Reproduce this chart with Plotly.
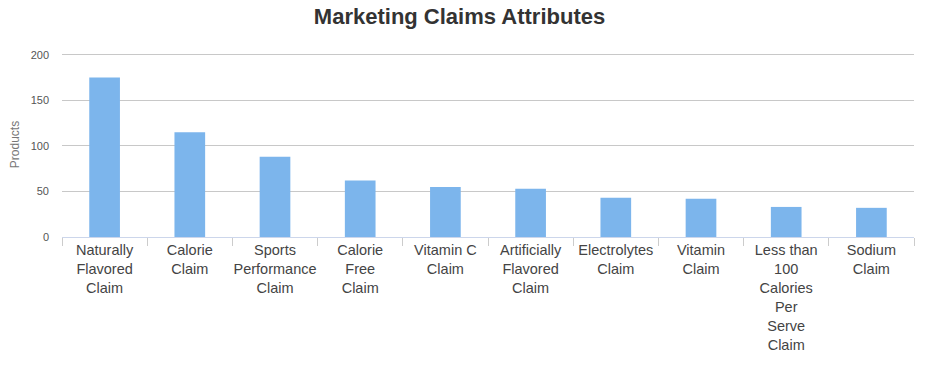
import plotly.graph_objects as go

categories = [
    "Naturally<br>Flavored<br>Claim",
    "Calorie<br>Claim",
    "Sports<br>Performance<br>Claim",
    "Calorie<br>Free<br>Claim",
    "Vitamin C<br>Claim",
    "Artificially<br>Flavored<br>Claim",
    "Electrolytes<br>Claim",
    "Vitamin<br>Claim",
    "Less than<br>100<br>Calories<br>Per<br>Serve<br>Claim",
    "Sodium<br>Claim",
]
products = [175, 115, 88, 62, 55, 53, 43, 42, 33, 32]
y_ticks = [0, 50, 100, 150, 200]

fig = go.Figure(
    go.Bar(
        x=categories,
        y=products,
        marker=dict(color="#7cb5ec", line=dict(width=0)),
        hoverinfo="x+y",
    )
)

fig.update_layout(
    width=934,
    height=374,
    paper_bgcolor="white",
    plot_bgcolor="white",
    margin=dict(l=62, r=20, t=52, b=137, autoexpand=False),
    bargap=0.64,
    showlegend=False,
    font=dict(family="Liberation Sans, Arial, sans-serif", color="#444"),
    title=dict(
        text="<b>Marketing Claims Attributes</b>",
        x=0.492,
        xanchor="center",
        y=0.957,
        yanchor="middle",
        font=dict(size=22, color="#333", family="Liberation Sans, Arial, sans-serif"),
    ),
)

fig.update_xaxes(
    type="category",
    tickson="boundaries",
    ticks="outside",
    ticklen=8,
    tickcolor="#ccc",
    tickangle=0,
    showline=True,
    linecolor="#ccd6eb",
    linewidth=1,
    showgrid=False,
    tickfont=dict(size=14.5, color="#444"),
    automargin=False,
    fixedrange=True,
)

fig.update_yaxes(
    range=[0, 203],
    tickvals=y_ticks,
    showgrid=True,
    gridcolor="#c8c8c8",
    gridwidth=1,
    zeroline=False,
    showline=False,
    ticks="",
    ticklabelstandoff=12,
    tickfont=dict(size=11, color="#555"),
    title=dict(text="Products", font=dict(size=12, color="#777"), standoff=8),
    automargin=False,
    fixedrange=True,
)

fig.write_html("out.html")
